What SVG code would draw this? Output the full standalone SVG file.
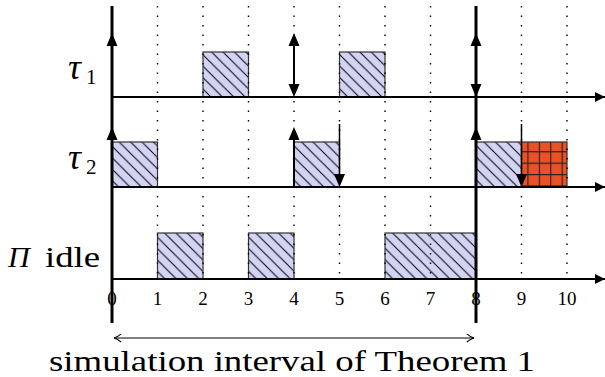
<svg xmlns="http://www.w3.org/2000/svg" width="605" height="377" viewBox="0 0 605 377">
<style>
.box{fill:url(#hatch);stroke:#333;stroke-width:1.2}
.red{fill:url(#grid);stroke:#333;stroke-width:1.2}
.dot{stroke:#000;stroke-width:1.4;stroke-dasharray:1.4 8.1;fill:none}
.axis{stroke:#000;stroke-width:2;fill:none}
.thick{stroke:#000;stroke-width:3;fill:none}
.rel{stroke:#000;stroke-width:2;fill:none}
.dl{stroke:#000;stroke-width:1.5;fill:none}
.tick{font-family:"Liberation Serif",serif;font-size:19px;text-anchor:middle;fill:#000}
.lab{font-family:"Liberation Serif",serif;font-size:30px;fill:#000}
.tau{font-family:"Liberation Serif",serif;font-size:36px;font-style:italic;fill:#000}
.sub{font-family:"Liberation Serif",serif;font-size:21px;fill:#000}
</style>
<defs>
<pattern id="hatch" patternUnits="userSpaceOnUse" width="11.4" height="11.4">
<rect width="11.4" height="11.4" fill="#d3d3f4"/>
<path d="M-1,-1 L12.4,12.4 M-1,10.4 L1,12.4 M10.4,-1 L12.4,1" stroke="#000" stroke-width="1"/>
</pattern>
<pattern id="grid" patternUnits="userSpaceOnUse" x="3" y="3" width="11.4" height="11.4">
<rect width="11.4" height="11.4" fill="#ec5026"/>
<path d="M0,0 V11.4 M0,0 H11.4" stroke="#222" stroke-width="2.2"/>
</pattern>
<marker id="ah" viewBox="0 0 10 10" refX="10" refY="5" markerWidth="10" markerHeight="10" markerUnits="userSpaceOnUse" orient="auto">
<path d="M0,0 L10,5 L0,10 Z" fill="#000"/>
</marker>
<marker id="open" viewBox="0 0 10 10" refX="9" refY="5" markerWidth="9" markerHeight="9" markerUnits="userSpaceOnUse" orient="auto-start-reverse">
<path d="M1,0.5 Q5,4 9,5 Q5,6 1,9.5" stroke="#000" stroke-width="1.2" fill="none"/>
</marker>
<path id="hd" d="M0,0 L-5.5,13 L5.5,13 Z" fill="#000"/>
</defs>

<g id="tau1-jobs">
<rect class="box" x="203" y="52" width="45.5" height="45"/>
<rect class="box" x="339.5" y="52" width="45.5" height="45"/>
</g>
<g id="tau2-jobs">
<rect class="box" x="112" y="142" width="45.5" height="45"/>
<rect class="box" x="294" y="142" width="45.5" height="45"/>
<rect class="box" x="476" y="142" width="45.5" height="45"/>
<rect class="red" x="521.5" y="142" width="45.5" height="45"/>
</g>
<g id="idle-jobs">
<rect class="box" x="157.5" y="233" width="45.5" height="46"/>
<rect class="box" x="248.5" y="233" width="45.5" height="46"/>
<rect class="box" x="385" y="233" width="91" height="46"/>
</g>

<g id="gridlines">
<path class="dot" d="M157.5,6V279 M203,6V279 M248.5,6V279 M294,6V279 M339.5,6V279 M385,6V279 M430.5,6V279 M521.5,6V279 M567,6V279"/>
</g>

<g id="connectors">
<line class="axis" x1="112" y1="97" x2="605" y2="97" marker-end="url(#ah)"/>
<line class="axis" x1="112" y1="187" x2="605" y2="187" marker-end="url(#ah)"/>
<line class="axis" x1="112" y1="279" x2="605" y2="279" marker-end="url(#ah)"/>
<line class="thick" x1="112" y1="6" x2="112" y2="323"/>
<line class="thick" x1="476" y1="6" x2="476" y2="323"/>
<line class="rel" x1="294" y1="36" x2="294" y2="94"/>
<line class="rel" x1="294" y1="130" x2="294" y2="187"/>
<line class="dl" x1="339.5" y1="124" x2="339.5" y2="180"/>
<line class="dl" x1="521.5" y1="124" x2="521.5" y2="180"/>
<use href="#hd" x="112" y="33"/>
<use href="#hd" x="294" y="33"/>
<use href="#hd" x="476" y="33"/>
<use href="#hd" transform="translate(294,97) rotate(180)"/>
<use href="#hd" transform="translate(476,97) rotate(180)"/>
<use href="#hd" x="112" y="127"/>
<use href="#hd" x="294" y="127"/>
<use href="#hd" x="476" y="127"/>
<use href="#hd" transform="translate(339.5,187) rotate(180)"/>
<use href="#hd" transform="translate(521.5,187) rotate(180)"/>
<line x1="114" y1="338" x2="474" y2="338" stroke="#000" stroke-width="1.1" marker-start="url(#open)" marker-end="url(#open)"/>
</g>

<g id="ticks">
<text class="tick" x="112" y="305">0</text>
<text class="tick" x="157.5" y="305">1</text>
<text class="tick" x="203" y="305">2</text>
<text class="tick" x="248.5" y="305">3</text>
<text class="tick" x="294" y="305">4</text>
<text class="tick" x="339.5" y="305">5</text>
<text class="tick" x="385" y="305">6</text>
<text class="tick" x="430.5" y="305">7</text>
<text class="tick" x="476" y="305">8</text>
<text class="tick" x="521.5" y="305">9</text>
<text class="tick" x="567" y="305">10</text>
</g>

<g id="labels">
<text class="tau" x="68" y="79">τ</text>
<text class="sub" x="86" y="84">1</text>
<text class="tau" x="68" y="169">τ</text>
<text class="sub" x="86" y="174">2</text>
<text class="lab" x="8" y="267" font-style="italic">Π</text>
<text class="lab" x="45" y="267" textLength="55" lengthAdjust="spacingAndGlyphs">idle</text>
<text class="lab" x="292" y="371" text-anchor="middle" textLength="486" lengthAdjust="spacingAndGlyphs">simulation interval of Theorem 1</text>
</g>
</svg>
